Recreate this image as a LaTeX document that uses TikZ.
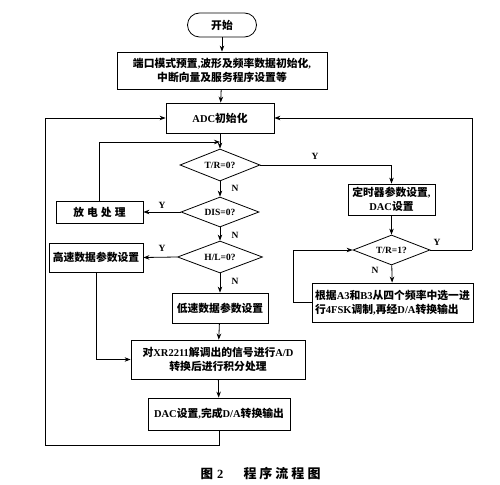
\documentclass[tikz,border=0pt]{standalone}
\usepackage{fontspec}
\setmainfont{Liberation Serif}
\newfontfamily\cjk{Noto Sans CJK SC}
\newcommand{\zh}[1]{{\cjk\bfseries\fontsize{10.8}{13}\selectfont #1}}
\usetikzlibrary{shapes.geometric,arrows.meta}
\tikzset{
  box/.style={draw,line width=0.8pt,inner sep=1pt,font=\fontsize{10.5}{13.5}\selectfont\bfseries,align=center},
  dia/.style={draw,line width=0.8pt,diamond,aspect=2.5,inner sep=0pt,font=\fontsize{9.5}{11}\selectfont\bfseries},
  arr/.style={line width=0.8pt,-{Stealth[length=6pt,width=4.5pt]}},
  ln/.style={line width=0.8pt},
  lab/.style={font=\fontsize{9.5}{11}\selectfont\bfseries},
}
\begin{document}
\begin{tikzpicture}[x=1pt,y=-1pt]
\useasboundingbox (0,0) rectangle (500,484);
\node[box,rounded corners=12pt,minimum width=69pt,minimum height=24pt] (start) at (222,25) {\zh{开始}};
\node[box,minimum width=210pt,minimum height=37pt] (b1) at (222,70.5) {\zh{端口模式预置},\zh{波形及频率数据初始化},\\\zh{中断向量及服务程序设置等}};
\node[box,minimum width=108pt,minimum height=30pt] (adc) at (220,118) {ADC\zh{初始化}};
\node[dia,minimum width=80pt,minimum height=32pt] (d1) at (220,165) {T/R=0?};
\node[box,minimum width=87pt,minimum height=31pt] (timer) at (391.5,199.5) {\zh{定时器参数设置},\\DAC\zh{设置}};
\node[dia,minimum width=77pt,minimum height=30pt] (d4) at (391.5,250) {T/R=1?};
\node[box,minimum width=161pt,minimum height=39pt,align=left] (fsk) at (392.5,302.5) {\zh{根据}A3\zh{和}B3\zh{从四个频率中选一进}\\\zh{行}4FSK\zh{调制},\zh{再经}D/A\zh{转换输出}};
\node[dia,minimum width=78pt,minimum height=30pt] (d2) at (220,212) {DIS=0?};
\node[box,minimum width=87pt,minimum height=22pt] (dis) at (99.5,212) {\zh{放\hspace{3pt}电\hspace{3pt}处\hspace{3pt}理}};
\node[dia,minimum width=85pt,minimum height=32pt] (d3) at (220,257) {H/L=0?};
\node[box,minimum width=94pt,minimum height=29pt] (hs) at (96,257.5) {\zh{高速数据参数设置}};
\node[box,minimum width=96pt,minimum height=30pt] (ls) at (220,308) {\zh{低速数据参数设置}};
\node[box,minimum width=174pt,minimum height=39pt] (xr) at (218,359.5) {\zh{对}XR2211\zh{解调出的信号进行}A/D\\\zh{转换后进行积分处理}};
\node[box,minimum width=142pt,minimum height=32pt] (dac) at (219,414) {DAC\zh{设置},\zh{完成}D/A\zh{转换输出}};
\node (cap1) at (212,474) {\zh{\fontsize{12.5}{14}\selectfont 图}\hspace{4pt}{\fontsize{12.5}{14}\selectfont\bfseries 2}};
\node (cap2) at (282,474) {\zh{\fontsize{13}{14}\selectfont 程\hspace{3pt}序\hspace{3pt}流\hspace{3pt}程\hspace{3pt}图}};
\coordinate (J) at (220,142);
\coordinate (L1) at (45,445);
\coordinate (R) at (472,250);
\coordinate (F) at (293,302.5);
\draw[arr] (start) -- (b1);
\draw[arr] (b1) -- (adc);
\draw[arr] (adc) -- (d1);
\draw[arr] (dis.north) |- (J);
\draw[arr] (d1.east) -| (timer.north);
\draw[arr] (timer) -- (d4);
\draw[arr] (d4) -- (fsk);
\draw[arr] (fsk.west) -- (F) |- (d4.west);
\draw[ln] (d4.east) -- (R);
\draw[arr] (R) |- (adc.east);
\draw[arr] (d1) -- (d2);
\draw[arr] (d2.west) -- (dis.east);
\draw[arr] (d2) -- (d3);
\draw[arr] (d3.west) -- (hs.east);
\draw[arr] (d3) -- (ls);
\draw[arr] (ls) -- (xr);
\draw[arr] (hs.south) |- (xr.west);
\draw[arr] (xr) -- (dac);
\draw[ln] (dac.south) |- (L1);
\draw[arr] (L1) |- (adc.west);
\node[lab] (y1) at (315,156) {Y};
\node[lab] (n1) at (235,188) {N};
\node[lab] (y2) at (162,205) {Y};
\node[lab] (n2) at (235,235) {N};
\node[lab] (y3) at (162,248) {Y};
\node[lab] (n3) at (235,281) {N};
\node[lab] (y4) at (437,242) {Y};
\node[lab] (n4) at (375,270) {N};
\end{tikzpicture}
\end{document}
